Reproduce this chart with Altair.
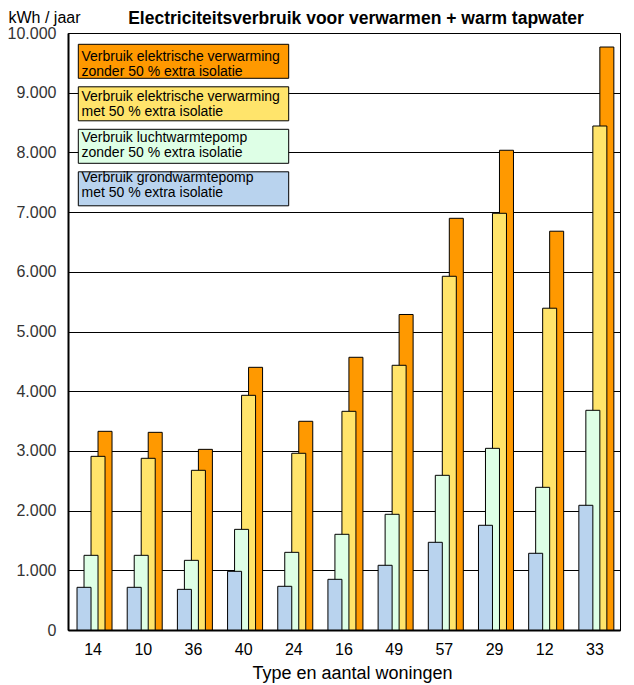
import altair as alt
import pandas as pd

categories = ["14", "10", "36", "40", "24", "16", "49", "57", "29", "12", "33"]

# kWh / jaar per series
elek_zonder = [3328, 3311, 3026, 4400, 3496, 4568, 5285, 6896, 8036, 6680, 9765]
elek_met = [2909, 2876, 2675, 3931, 2960, 3663, 4434, 5925, 6980, 5390, 8442]
lucht = [1251, 1251, 1167, 1686, 1301, 1603, 1938, 2591, 3043, 2390, 3680]
grond = [715, 715, 681, 983, 732, 849, 1084, 1469, 1754, 1285, 2089]

series_keys = ["zonder", "met", "lucht", "grond"]
series_labels = [
    "Verbruik elektrische verwarming\nzonder 50 % extra isolatie",
    "Verbruik elektrische verwarming\nmet 50 % extra isolatie",
    "Verbruik luchtwarmtepomp\nzonder 50 % extra isolatie",
    "Verbruik grondwarmtepomp\nmet 50 % extra isolatie",
]
series_colors = ["#FF9900", "#FFE46B", "#DEFFE6", "#B9D3EE"]
offset_order = ["grond", "lucht", "met", "zonder"]

chart_title = ["Electriciteitsverbruik voor verwarmen + warm tapwater"]

rows = []
for key, vals in zip(series_keys, [elek_zonder, elek_met, lucht, grond]):
    for c, v in zip(categories, vals):
        rows.append({"cat": c, "serie": key, "value": v})
df = pd.DataFrame(rows)

leg_df = pd.DataFrame({"serie": series_keys, "label": series_labels})
title_df = pd.DataFrame({"t": chart_title})

color_scale = alt.Scale(domain=series_keys, range=series_colors)
FONT = "Liberation Sans"

bars = alt.Chart(df).mark_bar(width=14, stroke="black", strokeWidth=1).encode(
    x=alt.X(
        "cat:N",
        sort=categories,
        scale=alt.Scale(paddingInner=0.3, paddingOuter=0.15),
        axis=alt.Axis(
            title="Type en aantal woningen",
            labelAngle=0,
            ticks=False,
            domainColor="black",
            domainWidth=2,
            labelFontSize=16,
            labelColor="black",
            labelPadding=11,
            titleFontSize=18,
            titleFontWeight="normal",
            titleColor="black",
            titlePadding=7,
            titleX=284,
        ),
    ),
    xOffset=alt.XOffset(
        "serie:N",
        sort=offset_order,
        scale=alt.Scale(domain=offset_order, paddingInner=0, paddingOuter=0.5, range=[1.5, 36.5]),
    ),
    y=alt.Y(
        "value:Q",
        stack=None,
        scale=alt.Scale(domain=[0, 10000], nice=False),
        axis=alt.Axis(
            values=list(range(0, 10001, 1000)),
            labelExpr="replace(format(datum.value, ','), ',', '.')",
            grid=True,
            gridColor="black",
            gridWidth=1,
            ticks=False,
            domainColor="black",
            domainWidth=2,
            labelFontSize=16,
            labelColor="#333333",
            labelPadding=12,
            title="kWh / jaar",
            titleAngle=0,
            titleAlign="left",
            titleBaseline="alphabetic",
            titleX=-60,
            titleY=-11,
            titleFontSize=16,
            titleFontWeight="normal",
            titleColor="black",
        ),
    ),
    color=alt.Color("serie:N", scale=color_scale, legend=None),
)

leg_y_scale = alt.Scale(domain=series_keys, range=[11.3, 172.8], paddingInner=0.2, paddingOuter=0)

leg_rects = alt.Chart(leg_df).mark_rect(stroke="black", strokeWidth=1).encode(
    y=alt.Y("serie:N", sort=series_keys, scale=leg_y_scale, axis=None),
    x=alt.value(10.3),
    x2=alt.value(220.7),
    color=alt.Color("serie:N", scale=color_scale, legend=None),
)

leg_text = alt.Chart(leg_df).mark_text(
    align="left", baseline="middle", fontSize=14, lineHeight=15, lineBreak="\n",
    color="black", dy=-7.5
).encode(
    y=alt.Y("serie:N", sort=series_keys, scale=leg_y_scale, axis=None),
    x=alt.value(13.5),
    text="label:N",
)

title_text = alt.Chart(title_df).mark_text(
    align="center", baseline="alphabetic", fontSize=17.5, fontWeight="bold", color="black"
).encode(
    x=alt.value(288),
    y=alt.value(-9.5),
    text="t:N",
)

chart = (
    alt.layer(bars, leg_rects, leg_text, title_text)
    .resolve_scale(y="independent")
    .properties(
        width=552,
        height=597,
        padding={"left": 60, "top": 25, "right": 6, "bottom": 55},
        autosize=alt.AutoSizeParams(type="none"),
    )
    .configure(font=FONT, background="white")
    .configure_view(stroke="black", strokeWidth=1)
)

chart.save("out.html", embed_options={"renderer": "svg", "actions": False})
